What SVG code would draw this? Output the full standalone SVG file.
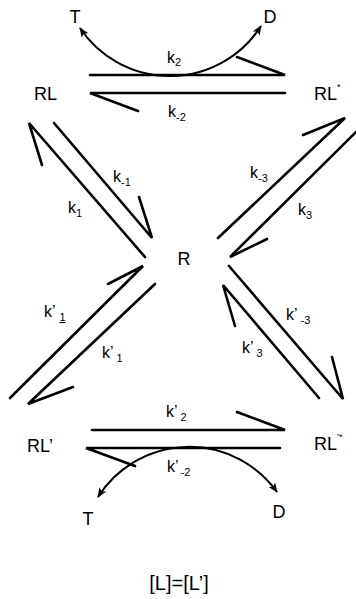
<svg xmlns="http://www.w3.org/2000/svg" width="356" height="599" viewBox="0 0 356 599">
<style>
text{font-family:"Liberation Sans",Arial,sans-serif;fill:#000}
.n{font-size:18px}
.k{font-size:16px}
.s{font-size:11px}
.sup{font-size:9px}
.ln{stroke:#000;stroke-width:2.6;fill:none;stroke-linecap:round}
.cv{stroke:#000;stroke-width:2;fill:none}
</style>
<defs>
<marker id="ah" viewBox="0 0 10 8" refX="9" refY="4" markerWidth="10" markerHeight="8" markerUnits="userSpaceOnUse" orient="auto-start-reverse">
<path d="M0,0 L10,4 L0,8 L2.5,4 z" fill="#000"/>
</marker>
</defs>
<rect width="356" height="599" fill="#fff"/>
<g id="connectors">
<path class="ln" d="M90,75 L285,75 L237,57"/>
<path class="ln" d="M285,93 L90,93 L138,111"/>
<path class="ln" d="M145,257 L29,123 L42,165"/>
<path class="ln" d="M54,123 L152,238 L139,197"/>
<path class="ln" d="M218,238 L345,118 L303,135"/>
<path class="ln" d="M360,128 L230,257 L267,239"/>
<path class="ln" d="M10,398 L143,266 L108,284"/>
<path class="ln" d="M155,284 L28,404 L73,387"/>
<path class="ln" d="M229,266 L343,399 L332,357"/>
<path class="ln" d="M319,398 L223,285 L235,326"/>
<path class="ln" d="M92,430 L285,430 L237,412"/>
<path class="ln" d="M280,448 L86,448 L135,466"/>
<path class="cv" d="M80,28 A108,108 0 0 0 261,26" marker-start="url(#ah)" marker-end="url(#ah)"/>
<path class="cv" d="M98,497 A108,108 0 0 1 277,492" marker-start="url(#ah)" marker-end="url(#ah)"/>
</g>
<g id="rates">
<text class="k" x="167" y="63">k<tspan class="s" dy="3">2</tspan></text>
<text class="k" x="168" y="117">k<tspan class="s" dy="4">-2</tspan></text>
<text class="k" x="113" y="182">k<tspan class="s" dy="4">-1</tspan></text>
<text class="k" x="68" y="213">k<tspan class="s" dy="4">1</tspan></text>
<text class="k" x="250" y="178">k<tspan class="s" dy="4">-3</tspan></text>
<text class="k" x="298" y="215">k<tspan class="s" dy="4">3</tspan></text>
<text class="k" x="44" y="317">k’ <tspan class="s" dy="4" text-decoration="underline">1</tspan></text>
<text class="k" x="102" y="358">k’<tspan class="s" dy="4" dx="3">1</tspan></text>
<text class="k" x="286" y="320">k’<tspan class="s" dy="4" dx="3">-3</tspan></text>
<text class="k" x="242" y="353">k’<tspan class="s" dy="4" dx="3">3</tspan></text>
<text class="k" x="166" y="417">k’<tspan class="s" dy="4" dx="3">2</tspan></text>
<text class="k" x="167" y="472">k’<tspan class="s" dy="4" dx="2">-2</tspan></text>
</g>
<g id="node-T-top"><text class="n" x="75" y="23" text-anchor="middle">T</text></g>
<g id="node-D-top"><text class="n" x="270" y="23" text-anchor="middle">D</text></g>
<g id="node-RL"><text class="n" x="34" y="100">RL</text></g>
<g id="node-RLstar"><text class="n" x="314" y="100">RL<tspan class="sup" dy="-10">*</tspan></text></g>
<g id="node-R"><text class="n" x="184" y="265" text-anchor="middle">R</text></g>
<g id="node-RLp"><text class="n" x="27" y="452">RL’</text></g>
<g id="node-RLpp"><text class="n" x="314" y="450">RL<tspan class="sup" dy="-10">’*</tspan></text></g>
<g id="node-T-bottom"><text class="n" x="88" y="525" text-anchor="middle">T</text></g>
<g id="node-D-bottom"><text class="n" x="279" y="518" text-anchor="middle">D</text></g>
<g id="equation"><text x="179" y="590" text-anchor="middle" style="font-size:20px">[L]=[L’]</text></g>
</svg>
